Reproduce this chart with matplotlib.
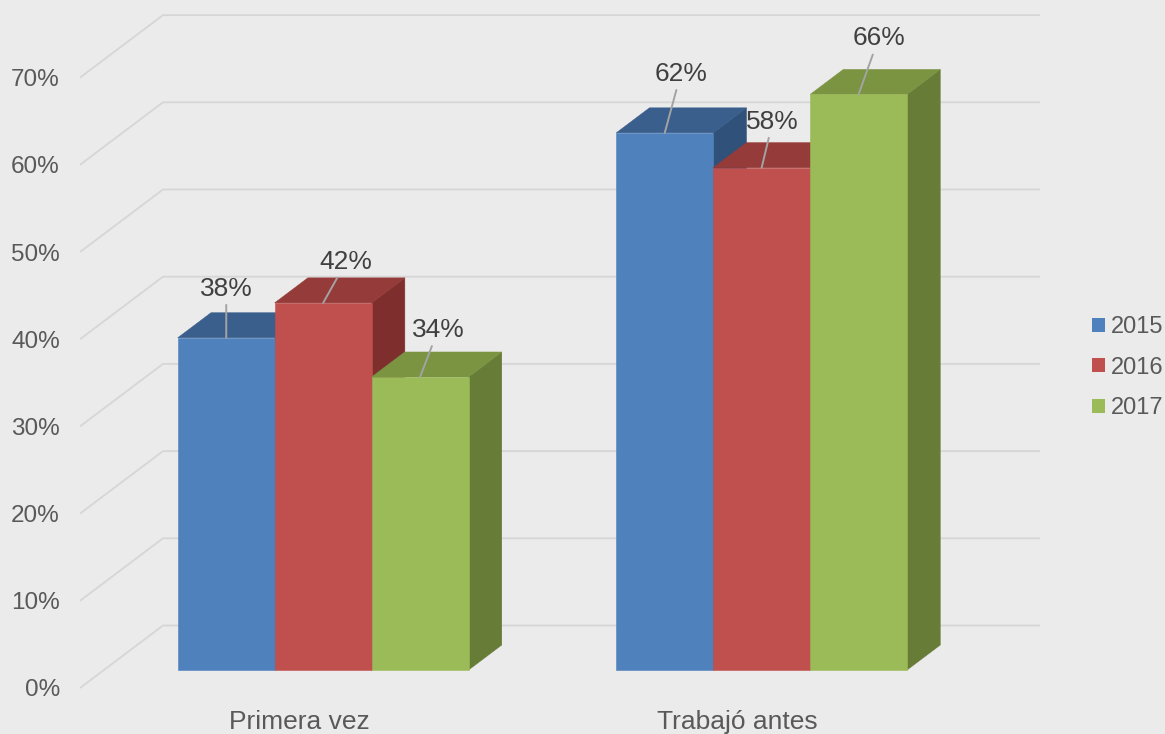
import matplotlib.pyplot as plt
from matplotlib.patches import Polygon, Patch

# data
categories = ['Primera vez', 'Trabajó antes']
years = ['2015', '2016', '2017']
values = {
    '2015': [38.1, 61.6],
    '2016': [42.1, 57.6],
    '2017': [33.6, 66.0],
}

# styles
front_cols = {'2015': '#4F81BD', '2016': '#C0504D', '2017': '#9BBB59'}
top_cols = {'2015': '#3A5F8D', '2016': '#953B39', '2017': '#7A9442'}
side_cols = {'2015': '#30517A', '2016': '#7E2F2D', '2017': '#667C37'}
# label offsets (px right, px up) from the front-top centre of each bar
label_offsets = {
    '2015': [(0, 49), (16, 59)],
    '2016': [(23, 41), (11, 46)],
    '2017': [(18, 47), (20, 56)],
}

plt.rcParams['font.family'] = ['Liberation Sans', 'DejaVu Sans']
bg = '#EBEBEB'
fig = plt.figure(figsize=(11.65, 7.34), dpi=100, facecolor=bg)
ax = fig.add_axes([80 / 1165, 46 / 734, 877 / 1165, 610.4 / 734])
ax.set_facecolor('none')
ax.set_xlim(-0.5, 1.5)
ax.set_ylim(0, 70)

# oblique projection (depth d from 0 front to 1 back wall)
DX = 83 / 438.5
DY = 62.5 / 8.72


def proj(x, y, d):
    return (x + d * DX, y + d * DY)


# grid: left wall diagonals + back wall lines
grid_col = '#D6D6D6'
for p in range(0, 80, 10):
    pts = [proj(-0.5, p, 0), proj(-0.5, p, 1), proj(1.5, p, 1)]
    ax.plot([q[0] for q in pts], [q[1] for q in pts], color=grid_col,
            lw=1.3, clip_on=False, zorder=1, solid_capstyle='butt')

w = 0.221
d0, d1 = 0.288, 0.688
for i in range(len(categories)):
    for j, yr in enumerate(years):
        v = values[yr][i]
        x0 = i - 1.5 * w + j * w
        x1 = x0 + w
        side = [proj(x1, 0, d0), proj(x1, v, d0), proj(x1, v, d1), proj(x1, 0, d1)]
        top = [proj(x0, v, d0), proj(x1, v, d0), proj(x1, v, d1), proj(x0, v, d1)]
        front = [proj(x0, 0, d0), proj(x1, 0, d0), proj(x1, v, d0), proj(x0, v, d0)]
        for poly, c in [(side, side_cols[yr]), (top, top_cols[yr]), (front, front_cols[yr])]:
            ax.add_patch(Polygon(poly, closed=True, facecolor=c, edgecolor=c,
                                 lw=0.4, clip_on=False, zorder=2))

# data labels with leader lines
for i in range(len(categories)):
    for j, yr in enumerate(years):
        v = values[yr][i]
        xc = i - 1.5 * w + j * w + w / 2
        ox, oy = label_offsets[yr][i]
        ax.annotate(f'{v:.0f}%', xy=proj(xc, v, d0), xytext=(ox * 0.72, oy * 0.72),
                    textcoords='offset points', ha='center', va='center',
                    fontsize=19, color='#404040', zorder=5,
                    arrowprops=dict(arrowstyle='-', color='#A3A3A3', lw=1.4,
                                    shrinkA=1, shrinkB=0))

ax.set_yticks(range(0, 80, 10))
ax.set_yticklabels([f'{p}%' for p in range(0, 80, 10)])
ax.set_xticks(range(len(categories)))
ax.set_xticklabels(categories)
ax.tick_params(axis='y', length=0, pad=14.4, labelsize=17.5, labelcolor='#595959')
ax.tick_params(axis='x', length=0, pad=15.5, labelsize=19, labelcolor='#595959')
for s in ax.spines.values():
    s.set_visible(False)

handles = [Patch(facecolor=front_cols[yr], edgecolor='none') for yr in years]
leg = fig.legend(handles, years, loc='center left', bbox_to_anchor=(1092 / 1165, 1 - 367.5 / 734),
                 frameon=False, fontsize=17, handlelength=0.54, handleheight=0.54,
                 handletextpad=0.25, labelspacing=0.78, borderpad=0, borderaxespad=0)
for t in leg.get_texts():
    t.set_color('#595959')

fig.savefig('out.png', dpi=100, facecolor=bg)
